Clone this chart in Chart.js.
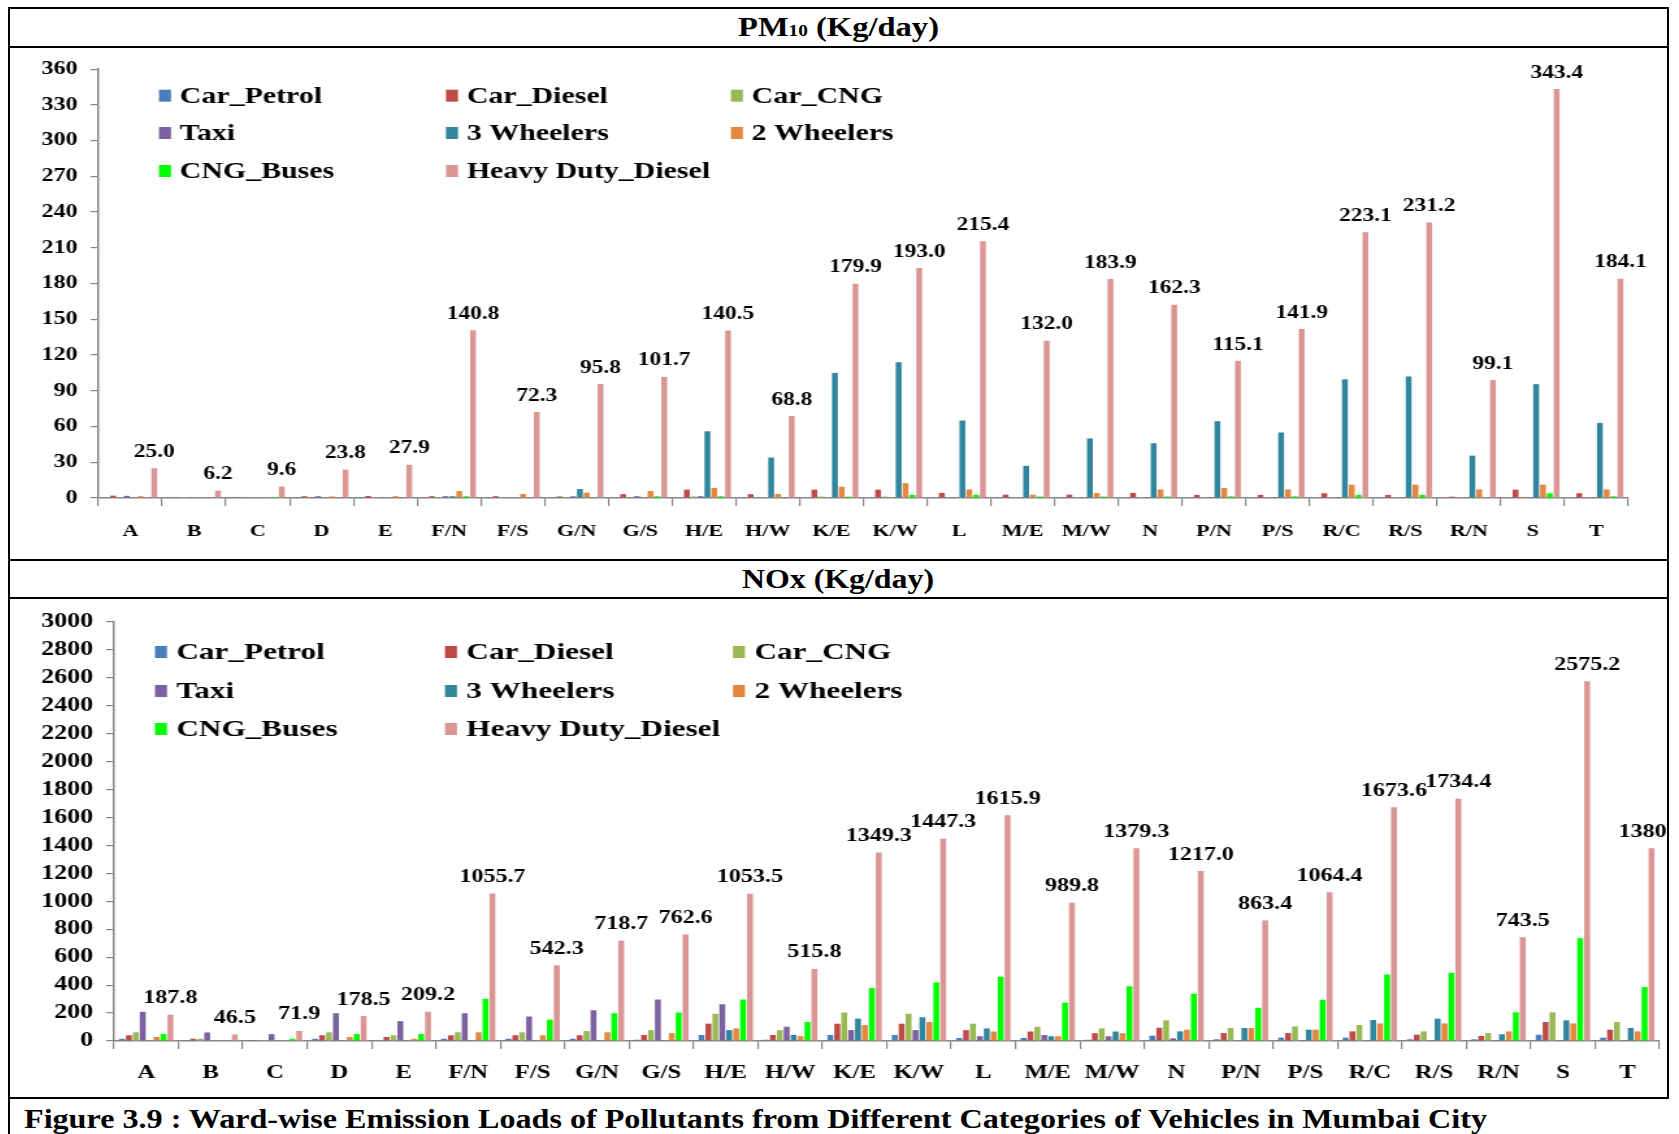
<!DOCTYPE html>
<html>
<head>
<meta charset="utf-8">
<script src="https://cdn.jsdelivr.net/npm/chart.js@4.4.1/dist/chart.umd.min.js"></script>
<style>
  body { margin: 0; background: #fff; }
  #fig { position: relative; width: 1679px; height: 1134px; overflow: hidden; font-family: "Liberation Serif", "Times New Roman", serif; font-weight: bold; }
  .hl { position: absolute; left: 8px; width: 1661px; height: 2px; background: #000; }
  .vl { position: absolute; width: 2px; background: #000; }
  .txt { position: absolute; white-space: nowrap; transform-origin: left center; color: #000; }
  canvas { position: absolute; }
</style>
</head>
<body>
<div id="fig">
  <div class="hl" style="top:7px"></div>
  <div class="hl" style="top:46px"></div>
  <div class="hl" style="top:559px"></div>
  <div class="hl" style="top:597px"></div>
  <div class="hl" style="top:1097px"></div>
  <div class="vl" style="left:8px; top:7px; height:1127px"></div>
  <div class="vl" style="left:1667px; top:7px; height:1092px"></div>

  <div class="txt" id="t1" style="left:738px; top:10px; font-size:27px; line-height:34px">PM<span style="font-size:16px">10</span> (Kg/day)</div>
  <div class="txt" id="t2" style="left:742px; top:562px; font-size:27px; line-height:34px">NOx (Kg/day)</div>
  <div class="txt" id="cap" style="left:24px; top:1102px; font-size:27px; line-height:34px">Figure 3.9 : Ward-wise Emission Loads of Pollutants from Different Categories of Vehicles in Mumbai City</div>

  <canvas id="pmChart" width="1274" height="510" style="left:10px; top:48px; width:1656px; height:510px"></canvas>
  <canvas id="noxChart" width="1274" height="496" style="left:10px; top:600px; width:1656px; height:496px"></canvas>
</div>

<script>
// ward categories
var wards = ['A', 'B', 'C', 'D', 'E', 'F/N', 'F/S', 'G/N', 'G/S', 'H/E', 'H/W', 'K/E', 'K/W', 'L',
             'M/E', 'M/W', 'N', 'P/N', 'P/S', 'R/C', 'R/S', 'R/N', 'S', 'T'];
var vehicleTypes = ['Car_Petrol', 'Car_Diesel', 'Car_CNG', 'Taxi', '3 Wheelers', '2 Wheelers', 'CNG_Buses', 'Heavy Duty_Diesel'];
var seriesColors = ['#4A7EBB', '#BE4B48', '#98B954', '#7D60A0', '#31859C', '#E4873F', '#00FF00', '#D99694'];

// PM10 (Kg/day)
var pm10CarPetrol   = [0.4, 0.1, 0.1, 0.3, 0.2, 0.4, 0.3, 0.3, 0.3, 0.5, 0.3, 0.5, 0.5, 0.4, 0.3, 0.3, 0.4, 0.2, 0.3, 0.3, 0.2, 0.2, 0.5, 0.3];
var pm10CarDiesel   = [2.0, 0.6, 0.8, 1.5, 1.7, 1.5, 1.5, 1.3, 3.2, 7.0, 3.2, 7.0, 7.0, 4.3, 2.8, 2.8, 4.3, 2.6, 2.6, 4.0, 2.6, 1.1, 7.0, 4.0];
var pm10CarCNG      = [0.3, 0.1, 0.0, 0.3, 0.2, 0.3, 0.3, 0.3, 0.4, 1.3, 0.4, 1.2, 1.2, 0.6, 0.5, 0.4, 0.7, 0.4, 0.5, 0.5, 0.3, 0.3, 1.0, 0.6];
var pm10Taxi        = [1.8, 0.6, 0.3, 1.5, 0.8, 1.5, 0.5, 1.4, 1.5, 1.5, 0.5, 0.5, 0.5, 0.2, 0.3, 0.2, 0.2, 0.1, 0.1, 0.1, 0.1, 0.1, 0.2, 0.1];
var pm10ThreeWheel  = [0, 0, 0, 0, 0, 1.5, 0, 7.5, 0, 56, 34, 105, 114, 65, 27, 50, 46, 64.5, 55, 99.6, 102, 35.6, 95.5, 63];
var pm10TwoWheel    = [1.5, 0.4, 0.2, 1.3, 1.5, 5.8, 3.4, 4.5, 5.8, 8.5, 3.4, 9.5, 12.5, 7.2, 2.8, 4.2, 7.2, 8.3, 7.2, 11.2, 11.2, 7.2, 11.2, 7.2];
var pm10CngBuses    = [0.5, 0, 0.1, 0.5, 0.5, 1.5, 0.5, 0.7, 1.5, 1.5, 0.5, 1.2, 2.7, 2.7, 1.2, 1.2, 1.3, 1.4, 1.4, 2.6, 2.6, 0.6, 4.0, 1.4];
var pm10HeavyDiesel = [25.0, 6.2, 9.6, 23.8, 27.9, 140.8, 72.3, 95.8, 101.7, 140.5, 68.8, 179.9, 193.0, 215.4,
                       132.0, 183.9, 162.3, 115.1, 141.9, 223.1, 231.2, 99.1, 343.4, 184.1];

// NOx (Kg/day)
var noxCarPetrol   = [16, 3, 2, 16, 5, 16, 16, 16, 9, 43, 9, 43, 43, 22, 22, 9, 38, 12, 24, 24, 12, 12, 45, 24];
var noxCarDiesel   = [41, 16, 3, 41, 29, 41, 41, 41, 43, 124, 43, 124, 124, 78, 68, 56, 95, 57, 57, 69, 45, 36, 136, 81];
var noxCarCNG      = [62, 16, 2, 62, 41, 62, 62, 71, 78, 195, 78, 204, 195, 124, 102, 90, 148, 93, 105, 114, 69, 57, 205, 136];
var noxTaxi        = [209, 61, 49, 199, 142, 199, 175, 220, 297, 263, 102, 78, 78, 34, 43, 34, 19, 2, 2, 2, 2, 2, 2, 2];
var noxThreeWheel  = [0, 0, 0, 0, 0, 0, 0, 5, 0, 78, 43, 160, 170, 90, 34, 68, 69, 93, 81, 150, 160, 48, 148, 93];
var noxTwoWheel    = [29, 3, 2, 29, 16, 62, 41, 62, 56, 90, 34, 114, 136, 68, 34, 56, 81, 93, 81, 126, 126, 69, 126, 69];
var noxCngBuses    = [50, 0, 16, 50, 50, 302, 153, 199, 204, 297, 136, 380, 420, 460, 275, 392, 338, 238, 295, 476, 488, 205, 736, 386];
var noxHeavyDiesel = [187.8, 46.5, 71.9, 178.5, 209.2, 1055.7, 542.3, 718.7, 762.6, 1053.5, 515.8, 1349.3, 1447.3, 1615.9,
                      989.8, 1379.3, 1217.0, 863.4, 1064.4, 1673.6, 1734.4, 743.5, 2575.2, 1380.4];

var FONT = '"Liberation Serif", "Times New Roman", serif';

// stretch the html texts to the widths they have in the figure
function fitWidth(id, target) {
    var el = document.getElementById(id);
    el.style.transform = 'scaleX(' + (target / el.getBoundingClientRect().width) + ')';
}
fitWidth('t1', 201);
fitWidth('t2', 192);
fitWidth('cap', 1463);

// legend laid out as a 3 column grid
var gridLegend = {
    id: 'gridLegend',
    afterDraw: function (chart, args, opts) {
        var ctx = chart.ctx;
        ctx.save();
        ctx.font = 'bold ' + opts.size + 'px ' + FONT;
        ctx.textBaseline = 'middle';
        ctx.textAlign = 'left';
        chart.data.datasets.forEach(function (ds, i) {
            var x = opts.cols[i % 3], y = opts.rows[Math.floor(i / 3)];
            ctx.fillStyle = ds.backgroundColor;
            ctx.fillRect(x, y - opts.box / 2, opts.box * 0.77, opts.box);
            ctx.fillStyle = '#000';
            ctx.fillText(ds.label, x + opts.gap, y + 1);
        });
        ctx.restore();
    }
};

// value labels above the heavy duty diesel bars
var totalLabels = {
    id: 'totalLabels',
    afterDatasetsDraw: function (chart, args, opts) {
        var ctx = chart.ctx;
        var idx = chart.data.datasets.length - 1;
        var meta = chart.getDatasetMeta(idx);
        ctx.save();
        ctx.font = 'bold ' + opts.size + 'px ' + FONT;
        ctx.fillStyle = '#000';
        ctx.textAlign = 'center';
        ctx.textBaseline = 'bottom';
        meta.data.forEach(function (bar, j) {
            ctx.fillText(chart.data.datasets[idx].data[j].toFixed(1), bar.x, bar.y - opts.offset);
        });
        ctx.restore();
    }
};

function makeChart(id, series, cfg) {
    var datasets = series.map(function (values, i) {
        return {
            label: vehicleTypes[i],
            data: values,
            backgroundColor: seriesColors[i],
            borderWidth: 0
        };
    });
    return new Chart(document.getElementById(id), {
        type: 'bar',
        data: { labels: wards, datasets: datasets },
        options: {
            responsive: false,
            animation: false,
            layout: { padding: { top: cfg.padTop, right: cfg.padRight, bottom: 0, left: 0 } },
            datasets: { bar: { categoryPercentage: 0.86, barPercentage: 0.85 } },
            plugins: {
                legend: { display: false },
                tooltip: { enabled: false },
                gridLegend: cfg.legend,
                totalLabels: { size: cfg.valueSize, offset: 7 }
            },
            scales: {
                x: {
                    grid: { drawOnChartArea: false, tickLength: 8, color: '#868686', lineWidth: 1.2 },
                    border: { color: '#868686', width: 1.5 },
                    ticks: { color: '#000', font: { family: FONT, size: cfg.catSize, weight: 'bold' },
                             padding: cfg.catPad, maxRotation: 0, autoSkip: false },
                    afterFit: function (s) { s.height = cfg.xHeight; }
                },
                y: {
                    min: 0,
                    max: cfg.yMax,
                    ticks: { stepSize: cfg.yStep, color: '#000', padding: 10,
                             font: { family: FONT, size: cfg.tickSize, weight: 'bold' },
                             callback: function (v) { return String(v); } },
                    grid: { drawOnChartArea: false, tickLength: 6, color: '#868686', lineWidth: 1.2 },
                    border: { color: '#868686', width: 1.5 },
                    afterFit: function (s) { s.width = cfg.yWidth; }
                }
            }
        },
        plugins: [gridLegend, totalLabels]
    });
}

var pmChart = makeChart('pmChart',
    [pm10CarPetrol, pm10CarDiesel, pm10CarCNG, pm10Taxi, pm10ThreeWheel, pm10TwoWheel, pm10CngBuses, pm10HeavyDiesel],
    { yMax: 360, yStep: 30, yWidth: 68, padTop: 20, padRight: 29, xHeight: 60, catPad: 15,
      tickSize: 18.5, catSize: 17, valueSize: 18,
      legend: { cols: [114.6, 335.4, 554.6], rows: [47.7, 85, 123], box: 12, gap: 16, size: 23 } });

var noxChart = makeChart('noxChart',
    [noxCarPetrol, noxCarDiesel, noxCarCNG, noxTaxi, noxThreeWheel, noxTwoWheel, noxCngBuses, noxHeavyDiesel],
    { yMax: 3000, yStep: 200, yWidth: 80, padTop: 19, padRight: 5, xHeight: 55, catPad: 13,
      tickSize: 20, catSize: 19, valueSize: 18.5,
      legend: { cols: [111.5, 334.6, 556.2], rows: [52, 91, 129], box: 12, gap: 16.5, size: 24 } });
</script>
</body>
</html>
